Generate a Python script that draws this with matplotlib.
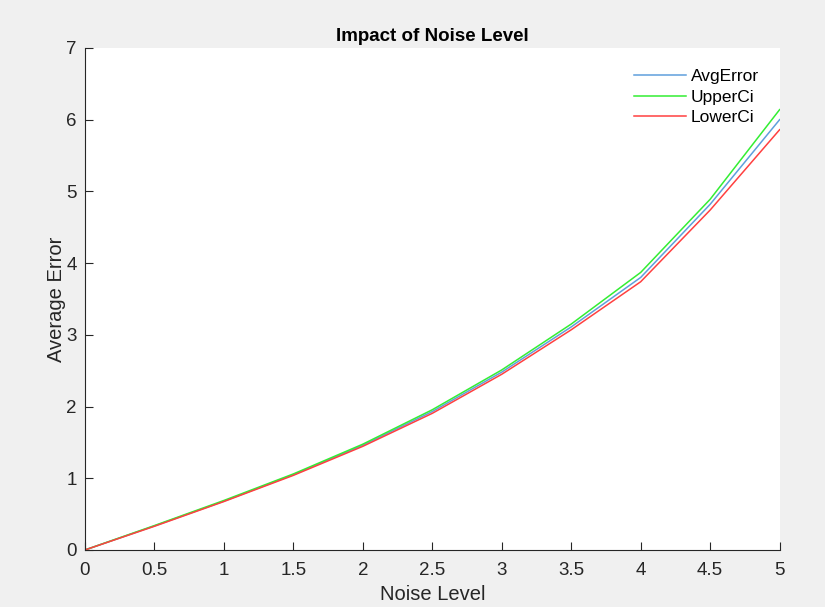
import matplotlib
matplotlib.use("Agg")
import matplotlib.pyplot as plt

noise_level = [0, 0.5, 1, 1.5, 2, 2.5, 3, 3.5, 4, 4.5, 5]
avg_error = [0, 0.335, 0.68, 1.05, 1.46, 1.93, 2.48, 3.11, 3.80, 4.82, 6.00]
upper_ci = [0, 0.34, 0.69, 1.06, 1.475, 1.955, 2.51, 3.15, 3.87, 4.89, 6.14]
lower_ci = [0, 0.33, 0.675, 1.04, 1.445, 1.905, 2.45, 3.07, 3.74, 4.74, 5.86]

x_ticks = [0, 0.5, 1, 1.5, 2, 2.5, 3, 3.5, 4, 4.5, 5]
y_ticks = [0, 1, 2, 3, 4, 5, 6, 7]

plt.rcParams['font.family'] = ['Liberation Sans', 'DejaVu Sans']
axis_color = '#262626'

fig = plt.figure(figsize=(8.25, 6.07), dpi=100, facecolor='#f0f0f0')
ax = fig.add_axes([0.103, 0.094, 0.842, 0.827])
ax.set_facecolor('white')

ax.plot(noise_level, avg_error, color='#5f9fdc', lw=1.1, label='AvgError')
ax.plot(noise_level, upper_ci, color='#33ee33', lw=1.1, label='UpperCi')
ax.plot(noise_level, lower_ci, color='#ff4040', lw=1.1, label='LowerCi')

ax.set_xlim(0, 5)
ax.set_ylim(0, 7)
ax.set_xticks(x_ticks)
ax.set_xticklabels([f'{v:g}' for v in x_ticks])
ax.set_yticks(y_ticks)

for side in ('top', 'right'):
    ax.spines[side].set_visible(False)
for side in ('left', 'bottom'):
    ax.spines[side].set_color(axis_color)
    ax.spines[side].set_linewidth(0.8)

ax.tick_params(direction='in', length=6, width=0.8, color=axis_color,
               labelcolor=axis_color, labelsize=13.5)
ax.tick_params(axis='x', pad=9)
ax.tick_params(axis='y', pad=6)

ax.set_xlabel('Noise Level', fontsize=14.5, color=axis_color, labelpad=4)
ax.set_ylabel('Average Error', fontsize=14.5, color=axis_color, labelpad=0)
ax.set_title('Impact of Noise Level', fontsize=13.5, fontweight='bold',
             color='black', pad=5)

ax.legend(loc='upper right', frameon=False, fontsize=12.5, handlelength=3.0,
          handletextpad=0.25, labelspacing=0.32, borderaxespad=0.8)

fig.savefig('out.png', dpi=100, facecolor=fig.get_facecolor())
